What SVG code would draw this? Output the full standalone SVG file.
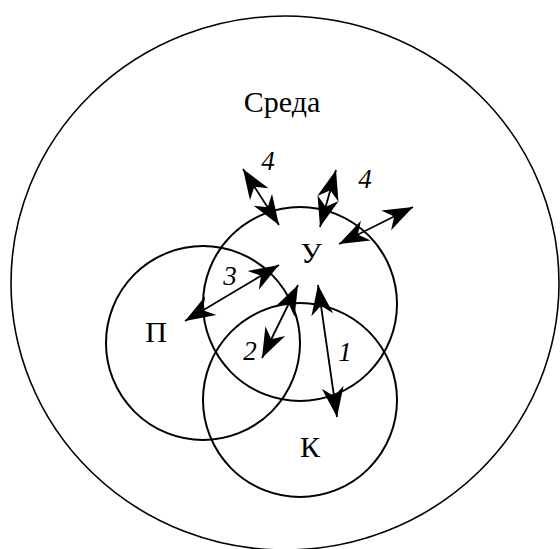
<svg xmlns="http://www.w3.org/2000/svg" width="560" height="549" viewBox="0 0 560 549">
<style>
.c{fill:none;stroke:#000;stroke-width:2}
.o{fill:none;stroke:#000;stroke-width:1.6}
.a{fill:none;stroke:#000;stroke-width:1.8;marker-start:url(#h);marker-end:url(#h)}
</style>
<defs>
<marker id="h" markerUnits="userSpaceOnUse" viewBox="-32 -13 33 26" refX="0" refY="0" markerWidth="33" markerHeight="26" orient="auto-start-reverse">
<path d="M0,0 L-30,-11 L-21,0 L-30,11 Z" fill="#000"/>
</marker>
</defs>
<rect width="560" height="549" fill="#fff"/>
<g id="sreda">
<ellipse class="o" cx="285" cy="283" rx="274" ry="267"/>
<text x="282" y="112" font-family="Liberation Serif" font-size="30" text-anchor="middle">Среда</text>
</g>
<g id="U">
<circle class="c" cx="300" cy="304" r="97"/>
<text x="311" y="263" font-family="Liberation Serif" font-size="30" text-anchor="middle">У</text>
</g>
<g id="P">
<circle class="c" cx="203" cy="343" r="97"/>
<text x="156" y="342" font-family="Liberation Serif" font-size="30" text-anchor="middle">П</text>
</g>
<g id="K">
<circle class="c" cx="300" cy="400" r="97"/>
<text x="310" y="457" font-family="Liberation Serif" font-size="30" text-anchor="middle">К</text>
</g>
<g id="connectors">
<line class="a" x1="243" y1="169" x2="279" y2="225"/>
<line class="a" x1="336" y1="170" x2="320" y2="227"/>
<line class="a" x1="413" y1="207" x2="339" y2="244"/>
<line class="a" x1="279" y1="265" x2="185" y2="321"/>
<line class="a" x1="298" y1="285" x2="262" y2="358"/>
<line class="a" x1="318" y1="285" x2="337" y2="417"/>
</g>
<g id="labels" font-family="Liberation Serif" font-style="italic" font-size="27" text-anchor="middle">
<text x="268" y="170">4</text>
<text x="365" y="188">4</text>
<text x="230" y="285">3</text>
<text x="250" y="360">2</text>
<text x="345" y="361">1</text>
</g>
</svg>
